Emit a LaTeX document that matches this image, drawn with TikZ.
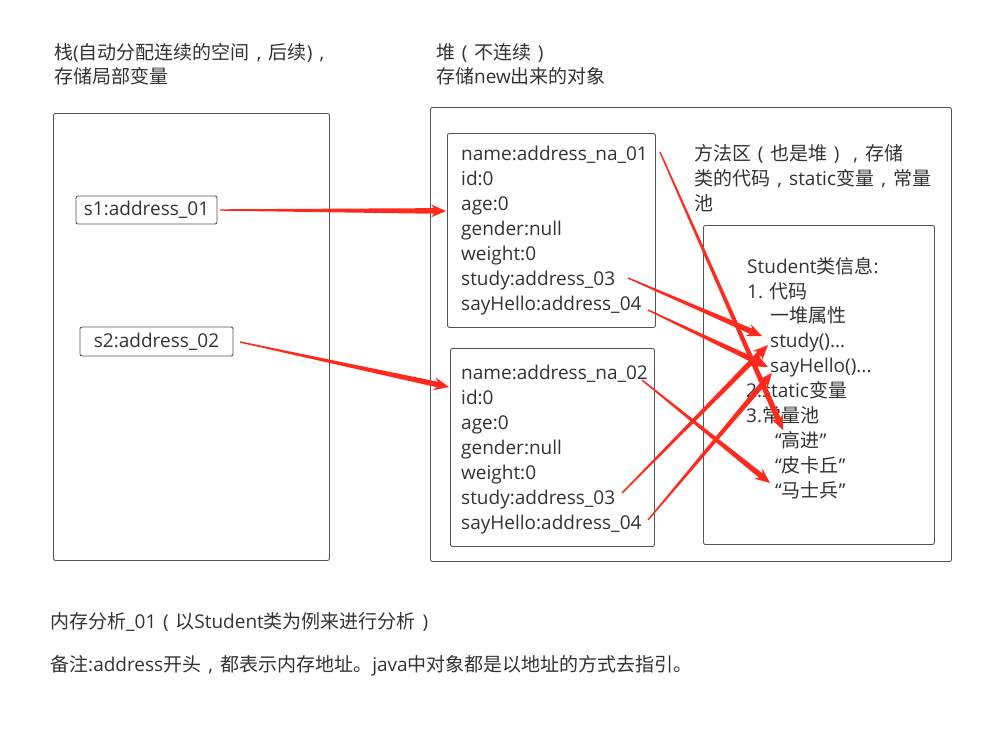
\documentclass[tikz,border=0pt]{standalone}
\usepackage{fontspec}
\setmainfont{Open Sans}
\newfontfamily\cjk{Noto Sans CJK SC}
\usetikzlibrary{calc}
\newcommand\zh[1]{{\cjk #1}}
\newcommand\fp[1]{\makebox[19pt][c]{#1}}
\definecolor{txtgray}{HTML}{333333}
\definecolor{linegray}{HTML}{555555}
\definecolor{arrowred}{HTML}{FF2A1E}
\newcommand\tarrow[2]{%
  \path ($(#2)!12pt!(#1)$) coordinate (tb) ($(#2)!15pt!(#1)$) coordinate (tc);
  \fill[arrowred] ($(#1)!0.7pt!-90:(#2)$) -- ($(tb)!2.8pt!-90:(#2)$) -- ($(tc)!6.5pt!-90:(#2)$) -- (#2)
    -- ($(tc)!6.5pt!90:(#2)$) -- ($(tb)!2.8pt!90:(#2)$) -- ($(#1)!0.7pt!90:(#2)$) -- cycle;
}
\begin{document}
\begin{tikzpicture}[x=1pt,y=-1pt,
  txt/.style={anchor=base west,inner sep=0pt,text=txtgray,font=\fontsize{19}{25}\selectfont},
  frame/.style={draw=linegray,line width=0.9pt,rounded corners=2pt,anchor=north west,inner sep=0pt},
  small/.style={draw=linegray,line width=0.9pt,rounded corners=2pt,inner sep=0pt,text=txtgray,font=\fontsize{19}{25}\selectfont}]
\fill[white] (0,0) rectangle (990,728);
\useasboundingbox (0,0) rectangle (990,728);
% titles
\node[txt] (t1) at (54,59) {\zh{栈}(\zh{自动分配连续的空间}\fp{,}\zh{后续})\fp{,}};
\node[txt] (t2) at (54,83) {\zh{存储局部变量}};
\node[txt] (t3) at (436,59) {\zh{堆}\fp{(}\zh{不连续}\fp{)}};
\node[txt] (t4) at (436,83) {\zh{存储}new\zh{出来的对象}};
% frames
\node[frame,minimum width=276pt,minimum height=447pt] (stack) at (53,113) {};
\node[frame,minimum width=521pt,minimum height=454pt] (heap) at (430,107) {};
\node[frame,minimum width=208pt,minimum height=194pt] (obj1) at (447,133) {};
\node[frame,minimum width=204pt,minimum height=198pt] (obj2) at (450,348) {};
\node[frame,minimum width=231pt,minimum height=319pt] (meth) at (703,225) {};
% stack vars
\node[small,minimum width=141pt,minimum height=28pt] (s1) at (146.5,210) {s1:address\_01};
\node[small,minimum width=153pt,minimum height=29pt] (s2) at (156.5,341.5) {s2:address\_02};
% object 1
\node[txt] (o1a) at (461,160) {name:address\_na\_01};
\node[txt] (o1b) at (461,185) {id:0};
\node[txt] (o1c) at (461,210) {age:0};
\node[txt] (o1d) at (461,235) {gender:null};
\node[txt] (o1e) at (461,260) {weight:0};
\node[txt] (o1f) at (461,285) {study:address\_03};
\node[txt] (o1g) at (461,310) {sayHello:address\_04};
% object 2
\node[txt] (o2a) at (461,379) {name:address\_na\_02};
\node[txt] (o2b) at (461,404) {id:0};
\node[txt] (o2c) at (461,429) {age:0};
\node[txt] (o2d) at (461,454) {gender:null};
\node[txt] (o2e) at (461,479) {weight:0};
\node[txt] (o2f) at (461,504) {study:address\_03};
\node[txt] (o2g) at (461,529) {sayHello:address\_04};
% method area
\node[txt] (m1) at (694,160) {\zh{方法区}\fp{(}\zh{也是堆}\fp{)}\fp{,}\zh{存储}};
\node[txt] (m2) at (694,185) {\zh{类的代码}\fp{,}static\zh{变量}\fp{,}\zh{常量}};
\node[txt] (m3) at (694,210) {\zh{池}};
\node[txt] (c1) at (747,273) {Student\zh{类信息}:};
\node[txt] (c2) at (747,298) {1. \zh{代码}};
\node[txt] (c3) at (770,322) {\zh{一堆属性}};
\node[txt] (c4) at (770,347) {study()...};
\node[txt] (c5) at (770,372) {sayHello()...};
\node[txt] (c6) at (746,397) {2.static\zh{变量}};
\node[txt] (c7) at (746,422) {3.\zh{常量池}};
\node[txt] (c8) at (775,447) {“\zh{高进}”};
\node[txt] (c9) at (775,472) {“\zh{皮卡丘}”};
\node[txt] (c10) at (775,497) {“\zh{马士兵}”};
% bottom
\node[txt] (b1) at (50,628) {\zh{内存分析}\_01\fp{(}\zh{以}Student\zh{类为例来进行分析}\fp{)}};
\node[txt] (b2) at (50,671) {\zh{备注}:address\zh{开头}\fp{,}\zh{都表示内存地址。}java\zh{中对象都是以地址的方式去指引。}};
% arrow endpoints
\coordinate (p1s) at (220,210); \coordinate (p1e) at (446,211);
\coordinate (p2s) at (240,342); \coordinate (p2e) at (449,387);
\coordinate (p3s) at (660,152); \coordinate (p3e) at (783,430);
\coordinate (p4s) at (628,278); \coordinate (p4e) at (762,336);
\coordinate (p5s) at (648,310); \coordinate (p5e) at (768,367);
\coordinate (p6s) at (642,380); \coordinate (p6e) at (770,483);
\coordinate (p7s) at (622,493); \coordinate (p7e) at (768,345);
\coordinate (p8s) at (648,520); \coordinate (p8e) at (772,373);
\tarrow{p1s}{p1e}
\tarrow{p2s}{p2e}
\tarrow{p3s}{p3e}
\tarrow{p4s}{p4e}
\tarrow{p5s}{p5e}
\tarrow{p6s}{p6e}
\tarrow{p7s}{p7e}
\tarrow{p8s}{p8e}
\end{tikzpicture}
\end{document}
